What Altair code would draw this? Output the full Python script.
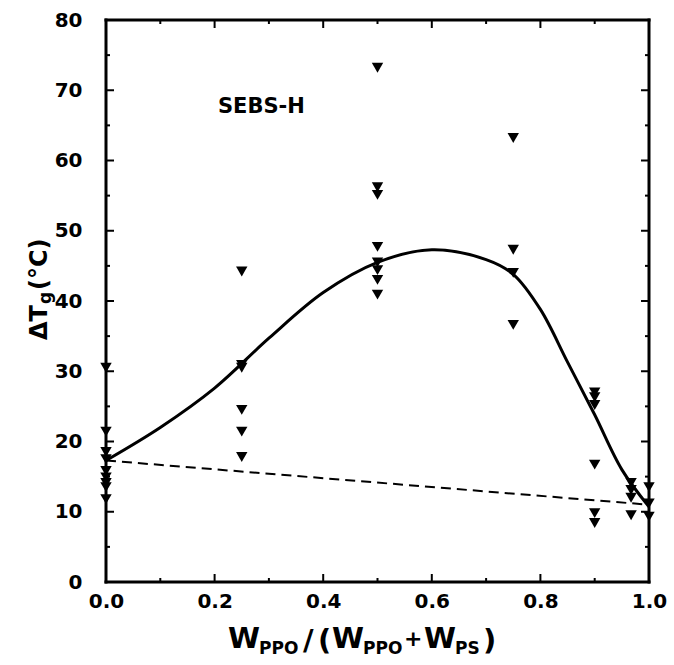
import altair as alt
import pandas as pd

# ---- data ----
pt_x = [0.0] * 9 + [0.25] * 6 + [0.5] * 8 + [0.75] * 4 + [0.9] * 6 + [0.967] * 4 + [1.0] * 3
pt_y = [30.5, 21.4, 18.5, 17.5, 15.8, 14.9, 14.1, 13.5, 11.8,
        44.2, 30.9, 30.5, 24.5, 21.4, 17.8,
        73.2, 56.2, 55.1, 47.7, 45.5, 44.4, 43.0, 40.9,
        63.2, 47.3, 44.0, 36.6,
        27.0, 26.3, 25.2, 16.7, 9.8, 8.4,
        14.1, 13.1, 12.0, 9.5,
        13.5, 11.2, 9.3]

curve_x = [0.0, 0.1, 0.2, 0.3, 0.4, 0.5, 0.6, 0.7, 0.75, 0.8, 0.85, 0.9, 0.95, 1.0]
curve_y = [17.3, 22.0, 27.6, 34.7, 41.2, 45.5, 47.3, 45.9, 43.8, 38.8, 31.3, 23.8, 16.0, 10.7]

dash_x = [0.0, 1.0]
dash_y = [17.3, 11.0]

x_major = [0.0, 0.2, 0.4, 0.6, 0.8, 1.0]
x_minor = [0.1, 0.3, 0.5, 0.7, 0.9]
y_major = [0, 10, 20, 30, 40, 50, 60, 70, 80]
y_minor = [5, 15, 25, 35, 45, 55, 65, 75]

W, H = 543, 562
FONT = "DejaVu Sans"

xs = alt.Scale(domain=[0, 1], nice=False, zero=False)
ys = alt.Scale(domain=[0, 80], nice=False, zero=False)

AX = alt.Axis(values=x_major, format=".1f", title=None, ticks=False, domain=False, grid=False,
              labelFont=FONT, labelFontSize=20, labelFontWeight="bold", labelColor="black",
              labelPadding=9, labelFlush=False)
AY = alt.Axis(values=y_major, title=None, ticks=False, domain=False, grid=False,
              labelFont=FONT, labelFontSize=20, labelFontWeight="bold", labelColor="black",
              labelPadding=24, labelFlush=False)

pts = pd.DataFrame({"x": pt_x, "y": pt_y})
cdf = pd.DataFrame({"x": curve_x, "y": curve_y})
ddf = pd.DataFrame({"x": dash_x, "y": dash_y})

points = alt.Chart(pts).mark_point(
    shape="triangle-down", filled=True, size=130, color="black", opacity=1
).encode(x=alt.X("x:Q", scale=xs, axis=AX), y=alt.Y("y:Q", scale=ys, axis=AY))

curve = alt.Chart(cdf).mark_line(color="black", strokeWidth=3, interpolate="catmull-rom").encode(
    x=alt.X("x:Q", scale=xs, axis=AX), y=alt.Y("y:Q", scale=ys, axis=AY))

dash = alt.Chart(ddf).mark_line(color="black", strokeWidth=2, strokeDash=[10, 6]).encode(
    x=alt.X("x:Q", scale=xs, axis=AX), y=alt.Y("y:Q", scale=ys, axis=AY))


def xticks(vals, length):
    d = pd.DataFrame({"x": vals})
    b = alt.Chart(d).mark_rule(color="black", strokeWidth=2).encode(
        x=alt.X("x:Q", scale=xs, axis=AX), y=alt.value(H), y2=alt.value(H - length))
    t = alt.Chart(d).mark_rule(color="black", strokeWidth=2).encode(
        x=alt.X("x:Q", scale=xs, axis=AX), y=alt.value(0), y2=alt.value(length))
    return [b, t]


def yticks(vals, length):
    d = pd.DataFrame({"y": vals})
    l = alt.Chart(d).mark_rule(color="black", strokeWidth=2).encode(
        y=alt.Y("y:Q", scale=ys, axis=AY), x=alt.value(0), x2=alt.value(length))
    r = alt.Chart(d).mark_rule(color="black", strokeWidth=2).encode(
        y=alt.Y("y:Q", scale=ys, axis=AY), x=alt.value(W), x2=alt.value(W - length))
    return [l, r]


one = pd.DataFrame({"k": [0]})


def frame_line(x1, y1, x2, y2):
    return alt.Chart(one).mark_rule(color="black", strokeWidth=3, strokeCap="square").encode(
        x=alt.value(x1), y=alt.value(y1), x2=alt.value(x2), y2=alt.value(y2))


frame = [frame_line(0, 0, W, 0), frame_line(0, H, W, H),
         frame_line(0, 0, 0, H), frame_line(W, 0, W, H)]


def txt(s, x, y, size, angle=0, align="left"):
    return alt.Chart(pd.DataFrame({"t": [s]})).mark_text(
        font=FONT, fontSize=size, fontWeight="bold", color="black",
        align=align, baseline="alphabetic", angle=angle
    ).encode(text="t:N", x=alt.value(x), y=alt.value(y))


OX, OY = 106, 20  # plot origin in the page
texts = [
    txt("SEBS-H", 218 - OX, 113 - OY, 21),
    # x title: W_PPO/(W_PPO+W_PS)
    txt("W", 228 - OX, 648 - OY, 29),
    txt("PPO", 259 - OX, 654 - OY, 17),
    txt("/", 303 - OX, 650 - OY, 29),
    txt("(", 318 - OX, 650 - OY, 29),
    txt("W", 332 - OX, 648 - OY, 29),
    txt("PPO", 363 - OX, 654 - OY, 17),
    txt("+", 404 - OX, 646 - OY, 22),
    txt("W", 424 - OX, 648 - OY, 29),
    txt("PS", 455 - OX, 654 - OY, 17),
    txt(")", 483 - OX, 650 - OY, 29),
    # y title: ΔTg(°C), reading upward
    txt("ΔT", 47 - OX, 340 - OY, 24, angle=270),
    txt("g", 51 - OX, 304 - OY, 17, angle=270),
    txt("(°C)", 47 - OX, 290 - OY, 24, angle=270),
]

layers = [points, curve, dash] + xticks(x_major, 8) + xticks(x_minor, 4) \
    + yticks(y_major, 8) + yticks(y_minor, 4) + frame + texts

chart = alt.layer(*layers).properties(
    width=W, height=H,
    autosize=alt.AutoSizeParams(type="none"),
    padding={"left": OX, "top": OY, "right": 674 - OX - W, "bottom": 665 - OY - H},
    background="white",
).configure_view(strokeWidth=0)

chart.save("out.html", embed_options={"renderer": "svg", "actions": False})
